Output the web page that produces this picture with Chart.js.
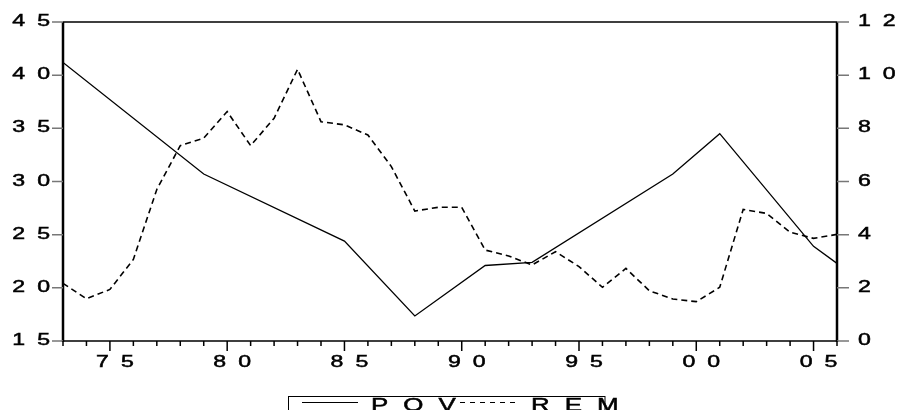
<!DOCTYPE html>
<html>
<head>
<meta charset="utf-8">
<script src="https://cdn.jsdelivr.net/npm/chart.js@4.4.0/dist/chart.umd.min.js"></script>
<style>
  html, body { margin: 0; padding: 0; background: #fff; }
  #wrap { width: 899px; height: 410px; }
</style>
</head>
<body>
<div id="wrap"><canvas id="chart" width="899" height="410"></canvas></div>
<script>
// 数据
const years = [1973, 1974, 1975, 1976, 1977, 1978, 1979, 1980, 1981, 1982, 1983, 1984,
               1985, 1986, 1987, 1988, 1989, 1990, 1991, 1992, 1993, 1994, 1995, 1996,
               1997, 1998, 1999, 2000, 2001, 2002, 2003, 2004, 2005, 2006];
// POV 只在调查年份有值，其余用 null，线段直接连过去
const pov = [41.2, null, null, null, null, null, 30.7, null, null, null, null, null,
             24.4, null, null, 17.35, null, null, 22.1, null, 22.4, null, null, null,
             null, null, 30.7, null, 34.5, null, null, null, 23.9, 22.3];
const rem = [2.17, 1.59, 1.94, 3.07, 5.7, 7.35, 7.63, 8.63, 7.35, 8.38, 10.22, 8.25,
             8.13, 7.75, 6.56, 4.89, 5.03, 5.03, 3.42, 3.2, 2.86, 3.36, 2.8, 2.02,
             2.73, 1.89, 1.58, 1.48, 2.02, 4.95, 4.8, 4.09, 3.86, 4.01];

const xTicks = [1975, 1980, 1985, 1990, 1995, 2000, 2005];
const leftTicks = [15, 20, 25, 30, 35, 40, 45];
const rightTicks = [0, 2, 4, 6, 8, 10, 12];

const FONT = 'Liberation Sans, Arial, sans-serif';

// 拉宽并加字距的文字（模仿原图的字体）
function spacedText(ctx, text, x, y, align, size, sx, gap) {
    ctx.font = size + 'px ' + FONT;
    ctx.textAlign = 'left';
    ctx.textBaseline = 'alphabetic';
    const chars = text.split('');
    const widths = chars.map(ch => ctx.measureText(ch).width * sx);
    const total = widths.reduce((a, b) => a + b, 0) + gap * (chars.length - 1);
    let cx = align === 'left' ? x : align === 'right' ? x - total : x - total / 2;
    chars.forEach((ch, i) => {
        ctx.save();
        ctx.translate(cx, y);
        ctx.scale(sx, 1);
        ctx.lineWidth = 0.5;
        ctx.strokeStyle = '#000';
        ctx.fillText(ch, 0, 0);
        ctx.strokeText(ch, 0, 0);
        ctx.restore();
        cx += widths[i] + gap;
    });
}

// 坐标框、刻度、标签和图例
const framePlugin = {
    id: 'frame',
    afterDatasetsDraw(chart) {
        const ctx = chart.ctx;
        const a = chart.chartArea;
        const x = chart.scales.x, yL = chart.scales.yL, yR = chart.scales.yR;
        ctx.save();
        ctx.fillStyle = '#000';
        ctx.strokeStyle = '#000';

        // 上下边框
        ctx.lineWidth = 1.5;
        ctx.beginPath();
        ctx.moveTo(a.left, a.top); ctx.lineTo(a.right, a.top);
        ctx.moveTo(a.left, a.bottom); ctx.lineTo(a.right, a.bottom);
        ctx.stroke();

        // 左右轴线
        ctx.lineWidth = 2.5;
        ctx.beginPath();
        ctx.moveTo(a.left, a.top); ctx.lineTo(a.left, a.bottom + 1);
        ctx.moveTo(a.right, a.top); ctx.lineTo(a.right, a.bottom + 1);
        ctx.stroke();

        // y 轴刻度线
        ctx.strokeStyle = '#777';
        ctx.lineWidth = 1.5;
        ctx.beginPath();
        leftTicks.forEach(v => {
            const py = yL.getPixelForValue(v);
            ctx.moveTo(a.left - 11, py); ctx.lineTo(a.left, py);
        });
        rightTicks.forEach(v => {
            const py = yR.getPixelForValue(v);
            ctx.moveTo(a.right, py); ctx.lineTo(a.right + 12, py);
        });
        ctx.stroke();

        // x 轴刻度线：每年一个短刻度，逢 5 年长刻度
        ctx.strokeStyle = '#000';
        ctx.lineWidth = 1.5;
        ctx.beginPath();
        years.forEach(yr => {
            const px = x.getPixelForValue(yr);
            const len = xTicks.includes(yr) ? 10 : 5;
            ctx.moveTo(px, a.bottom); ctx.lineTo(px, a.bottom + len);
        });
        ctx.stroke();

        // 刻度标签
        leftTicks.forEach(v => {
            spacedText(ctx, String(v), a.left - 13, yL.getPixelForValue(v) + 4, 'right', 16.5, 1.4, 12);
        });
        rightTicks.forEach(v => {
            spacedText(ctx, String(v), a.right + 21, yR.getPixelForValue(v) + 4, 'left', 16.5, 1.4, 12);
        });
        xTicks.forEach(yr => {
            const lbl = String(yr % 100).padStart(2, '0');
            spacedText(ctx, lbl, x.getPixelForValue(yr) + 5, a.bottom + 26, 'center', 16.5, 1.4, 12);
        });

        // 图例
        const ds = chart.data.datasets;
        ctx.lineWidth = 1;
        ctx.strokeStyle = '#000';
        ctx.beginPath();
        ctx.moveTo(302, 402.5); ctx.lineTo(358, 402.5);
        ctx.stroke();
        spacedText(ctx, ds[0].label, 371, 410.5, 'left', 18.5, 1.4, 15);
        ctx.lineWidth = 1;
        ctx.setLineDash([5, 5]);
        ctx.beginPath();
        ctx.moveTo(460, 402.5); ctx.lineTo(519, 402.5);
        ctx.stroke();
        ctx.setLineDash([]);
        spacedText(ctx, ds[1].label, 531, 410.5, 'left', 18.5, 1.4, 15);
        ctx.lineWidth = 1;
        ctx.strokeRect(288.5, 396.5, 316.5, 30);

        ctx.restore();
    }
};

new Chart(document.getElementById('chart'), {
    type: 'line',
    data: {
        datasets: [{
            label: 'POV',
            data: years.map((yr, i) => ({ x: yr, y: pov[i] })),
            yAxisID: 'yL',
            borderColor: '#000',
            borderWidth: 1.3,
            pointRadius: 0,
            tension: 0,
            spanGaps: true
        }, {
            label: 'REM',
            data: years.map((yr, i) => ({ x: yr, y: rem[i] })),
            yAxisID: 'yR',
            borderColor: '#000',
            borderWidth: 1.6,
            borderDash: [6, 4],
            pointRadius: 0,
            tension: 0
        }]
    },
    options: {
        responsive: false,
        animation: false,
        devicePixelRatio: 1,
        layout: {
            padding: { left: 63, right: 62, top: 22, bottom: 69 }
        },
        scales: {
            x: { type: 'linear', min: 1973, max: 2006, display: false },
            yL: { type: 'linear', position: 'left', min: 15, max: 45, display: false },
            yR: { type: 'linear', position: 'right', min: 0, max: 12, display: false }
        },
        plugins: {
            legend: { display: false },
            tooltip: { enabled: false }
        }
    },
    plugins: [framePlugin]
});
</script>
</body>
</html>
